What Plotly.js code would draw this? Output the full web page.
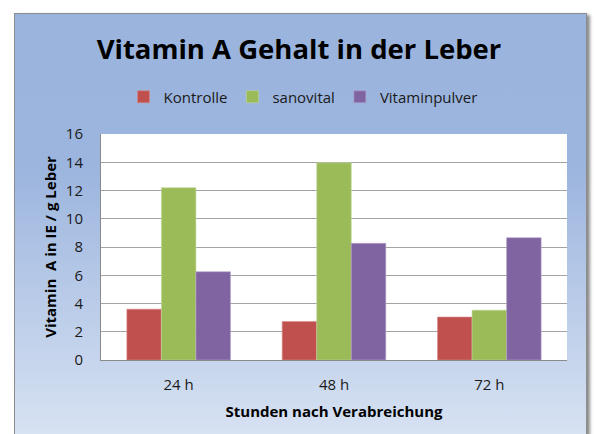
<!DOCTYPE html>
<html>
<head>
<meta charset="utf-8">
<script src="https://cdn.plot.ly/plotly-3.0.1.min.js"></script>
<style>
  html, body { margin: 0; padding: 0; background: #ffffff; }
  #wrap { position: relative; width: 594px; height: 434px; overflow: hidden; }
  #frame {
    position: absolute; left: 14px; top: 13px; width: 571px; height: 440px;
    border: 1px solid #8c8c8c;
    background: linear-gradient(to bottom, #9bb4dd 0%, #9cb5de 35%, #dbe5f4 100%);
    box-shadow: 3px 2px 3px rgba(0,0,0,0.45);
  }
  #chart { position: absolute; left: 0; top: 0; width: 594px; height: 434px; }
</style>
</head>
<body>
<div id="wrap">
  <div id="frame"></div>
  <div id="chart"></div>
</div>
<script>
const categories = ["24 h", "48 h", "72 h"];
const kontrolle = [3.6, 2.73, 3.04];
const sanovital = [12.2, 13.96, 3.53];
const vitaminpulver = [6.25, 8.26, 8.66];
const seriesNames = ["Kontrolle", "sanovital", "Vitaminpulver"];
const yTicks = [0, 2, 4, 6, 8, 10, 12, 14, 16];

const FONT = "'Open Sans', Lato, sans-serif";
const colors = ["#c0504d", "#9bbb59", "#8064a2"];
const edge = ["#d98c8a", "#c3d69b", "#b3a2c7"];
const vals = [kontrolle, sanovital, vitaminpulver];

const traces = seriesNames.map((n, i) => ({
  type: "bar",
  name: n,
  x: categories,
  y: vals[i],
  marker: { color: colors[i], line: { color: edge[i], width: 0.6 } },
  hoverinfo: "x+y+name"
}));

const layout = {
  width: 594, height: 434,
  paper_bgcolor: "rgba(0,0,0,0)",
  plot_bgcolor: "#ffffff",
  margin: { l: 101, r: 27, t: 134, b: 74, pad: 0 },
  barmode: "group",
  bargap: 0.333,
  bargroupgap: 0,
  font: { family: FONT, size: 15, color: "#1a1a1a" },
  title: {
    text: "<b>Vitamin A Gehalt in der Leber</b>",
    font: { family: FONT, size: 27.5, color: "#000000" },
    xref: "container", yref: "container",
    x: 299 / 594, xanchor: "center",
    y: 1 - 49 / 434, yanchor: "middle"
  },
  showlegend: true,
  legend: {
    orientation: "h",
    xref: "container", yref: "container",
    x: 303 / 594, xanchor: "center",
    y: 1 - 97 / 434, yanchor: "middle",
    font: { family: FONT, size: 15, color: "#1a1a1a" },
    bgcolor: "rgba(0,0,0,0)",
    traceorder: "normal"
  },
  xaxis: {
    type: "category",
    showgrid: false,
    showline: true, linecolor: "#8a8a8a", linewidth: 1,
    ticks: "", ticklabelstandoff: 11,
    tickfont: { family: FONT, size: 15, color: "#1a1a1a" },
    title: {
      text: "<b>Stunden nach Verabreichung</b>",
      font: { family: FONT, size: 15, color: "#000000" },
      standoff: 13
    },
    automargin: false,
    fixedrange: true
  },
  yaxis: {
    range: [0, 16],
    tickvals: yTicks,
    showgrid: true, gridcolor: "#a3a3a3", gridwidth: 1,
    showline: true, linecolor: "#8a8a8a", linewidth: 1,
    zeroline: false,
    ticks: "", ticklabelstandoff: 14,
    tickfont: { family: FONT, size: 15, color: "#1a1a1a" },
    title: {
      text: "<b>Vitamin\u00a0 A in IE / g Leber</b>",
      font: { family: FONT, size: 15, color: "#000000" },
      standoff: 5
    },
    automargin: false,
    fixedrange: true
  }
};

Plotly.newPlot("chart", traces, layout, { displayModeBar: false, staticPlot: true });
</script>
</body>
</html>
